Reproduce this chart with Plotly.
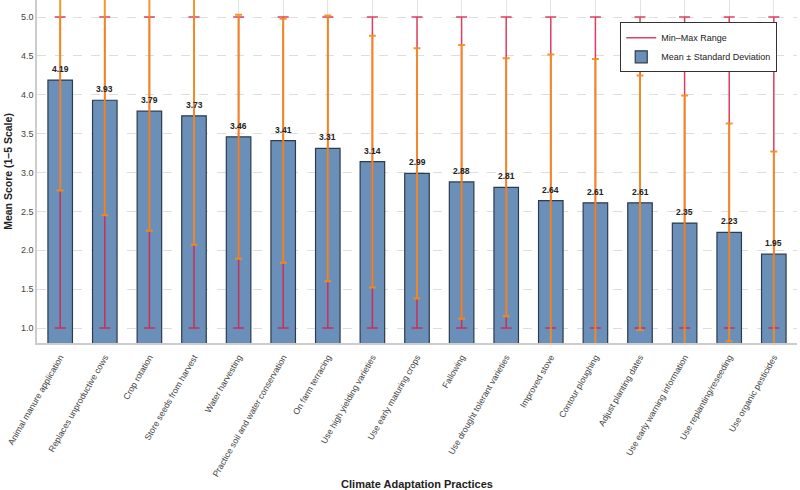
import plotly.graph_objects as go

practices = [
    "Animal manure application", "Replaces unproductive cows", "Crop rotation",
    "Store seeds from harvest", "Water harvesting", "Practice soil and water conservation",
    "On farm terracing", "Use high yielding varieties", "Use early maturing crops",
    "Fallowing", "Use drought tolerant varieties", "Improved stove", "Contour ploughing",
    "Adjust planting dates", "Use early warning information", "Use replanting/reseeding",
    "Use organic pesticides",
]
means = [4.19, 3.93, 3.79, 3.73, 3.46, 3.41, 3.31, 3.14, 2.99, 2.88, 2.81, 2.64, 2.61, 2.61, 2.35, 2.23, 1.95]
sds = [1.42, 1.48, 1.54, 1.66, 1.57, 1.57, 1.71, 1.62, 1.61, 1.76, 1.66, 1.88, 1.85, 1.64, 1.64, 1.40, 1.32]
mins = [1, 1, 1, 1, 1, 1, 1, 1, 1, 1, 1, 1, 1, 1, 1, 1, 1]
maxs = [5, 5, 5, 5, 5, 5, 5, 5, 5, 5, 5, 5, 5, 5, 5, 5, 5]

FONT = "Liberation Sans, Arial, sans-serif"
RED = "rgba(218,30,70,0.85)"
ORANGE = "rgba(245,140,30,0.9)"

fig = go.Figure()

fig.add_trace(go.Bar(
    x=practices, y=means, width=0.55,
    marker=dict(color="#6A8FB8", line=dict(color="#2E3B4E", width=1.2)),
    name="Mean ± Standard Deviation", legendrank=2,
))

fig.add_trace(go.Scatter(
    x=practices, y=means, mode="markers",
    marker=dict(size=1, color="rgba(0,0,0,0)"),
    error_y=dict(type="data", symmetric=False,
                 array=[mx - m for mx, m in zip(maxs, means)],
                 arrayminus=[m - mn for m, mn in zip(means, mins)],
                 color=RED, thickness=1.5, width=5.5),
    showlegend=False, hoverinfo="skip",
))

fig.add_trace(go.Scatter(
    x=practices, y=means, mode="markers",
    marker=dict(size=1, color="rgba(0,0,0,0)"),
    error_y=dict(type="data", array=sds, color=ORANGE, thickness=2, width=3.5),
    showlegend=False, hoverinfo="skip",
))

fig.add_trace(go.Scatter(
    x=[None], y=[None], mode="lines", line=dict(color=RED, width=1.5),
    name="Min–Max Range", legendrank=1,
))

for p, m in zip(practices, means):
    fig.add_annotation(x=p, y=m, text=f"<b>{m:.2f}</b>", showarrow=False,
                       yshift=11, font=dict(family=FONT, size=8.5, color="#222"))

fig.update_layout(
    width=800, height=490,
    margin=dict(l=37, r=3, t=0, b=147),
    paper_bgcolor="white", plot_bgcolor="white",
    font=dict(family=FONT, color="#333"),
    legend=dict(x=0.974, y=0.935, xanchor="right", yanchor="top",
                bgcolor="white", bordercolor="#333", borderwidth=1,
                font=dict(family=FONT, size=9, color="#222"),
                tracegroupgap=0, itemwidth=30),
    xaxis=dict(
        range=[-0.52, 16.52], tickangle=-60, automargin=False,
        tickfont=dict(family=FONT, size=8.7, color="#444"),
        showgrid=True, gridcolor="#e3e3e3", gridwidth=1,
        showline=True, linecolor="#cccccc", linewidth=1.5,
        ticks="outside", ticklen=4, tickcolor="rgba(0,0,0,0)",
        title=dict(text="<b>Climate Adaptation Practices</b>", standoff=6,
                   font=dict(family=FONT, size=11, color="#222")),
    ),
    yaxis=dict(
        range=[0.807, 5.22], tickvals=[1.0, 1.5, 2.0, 2.5, 3.0, 3.5, 4.0, 4.5, 5.0],
        tickformat=".1f", tickfont=dict(family=FONT, size=9, color="#444"),
        showgrid=True, gridcolor="#dedede", griddash="dash", gridwidth=1,
        showline=True, linecolor="#cccccc", linewidth=1.5,
        zeroline=False, ticks="", automargin=False,
        title=dict(text="<b>Mean Score (1–5 Scale)</b>", standoff=6,
                   font=dict(family=FONT, size=10.5, color="#222")),
    ),
)

fig.write_html("out.html")
